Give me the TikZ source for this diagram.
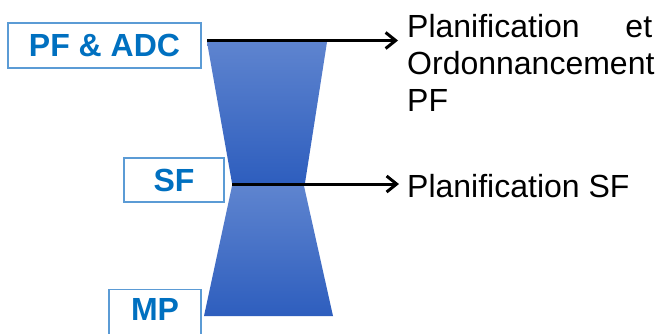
\documentclass[tikz,border=0pt]{standalone}
\usepackage{fontspec}
\setmainfont{Liberation Sans}
\usetikzlibrary{arrows.meta}
\hyphenpenalty=10000
\exhyphenpenalty=10000
\tolerance=10000
\hbadness=10000
\hfuzz=20pt
\definecolor{boxtext}{HTML}{0070C0}
\definecolor{boxline}{HTML}{5B9BD5}
\definecolor{shadetop}{HTML}{5E84CF}
\definecolor{shadebot}{HTML}{2E5EBE}
\tikzset{
  labelbox/.style={draw=boxline, line width=1.2bp, fill=white, text=boxtext,
    font=\fontsize{32bp}{36bp}\selectfont\bfseries, inner sep=0pt, align=center},
  sidetext/.style={font=\fontsize{32bp}{36.8bp}\selectfont, inner sep=0pt, anchor=north west},
  hourglass/.style={top color=shadetop, bottom color=shadebot, draw=none},
  arrowline/.style={line width=3bp, -{Straight Barb[length=10bp,width=16bp,line width=3bp]}}
}
\begin{document}
\begin{tikzpicture}[x=1bp,y=-1bp]
\clip (0,0) rectangle (668,333);
\fill[white] (0,0) rectangle (668,333);
% hourglass
\path[hourglass] (207,42) -- (327,42) -- (305,183) -- (232,183) -- cycle;
\path[hourglass] (232,186) -- (304,186) -- (333,316) -- (204,316) -- cycle;
% boxes
\node[labelbox, minimum width=193bp, minimum height=45bp] (pfadc) at (104.5,45.5) {PF \& ADC};
\node[labelbox, minimum width=100bp, minimum height=44bp] (sf) at (174,180) {SF};
\node[labelbox, minimum width=92bp, anchor=north, text height=23bp, text depth=40bp, inner ysep=8bp] (mp) at (155,289) {MP};
% right texts
\node[sidetext, text width=245bp, align=justify] (plan) at (407,14.5) {Planification et Ordonnancement PF};
\node[sidetext] (plansf) at (407,174.6) {Planification SF};
% connectors
\coordinate (topstart) at (207,40.5);
\coordinate (topend) at (398,40.5);
\coordinate (waiststart) at (232,184);
\coordinate (waistend) at (399,184);
\draw[arrowline] (topstart) -- (topend);
\draw[arrowline] (waiststart) -- (waistend);
\end{tikzpicture}
\end{document}
